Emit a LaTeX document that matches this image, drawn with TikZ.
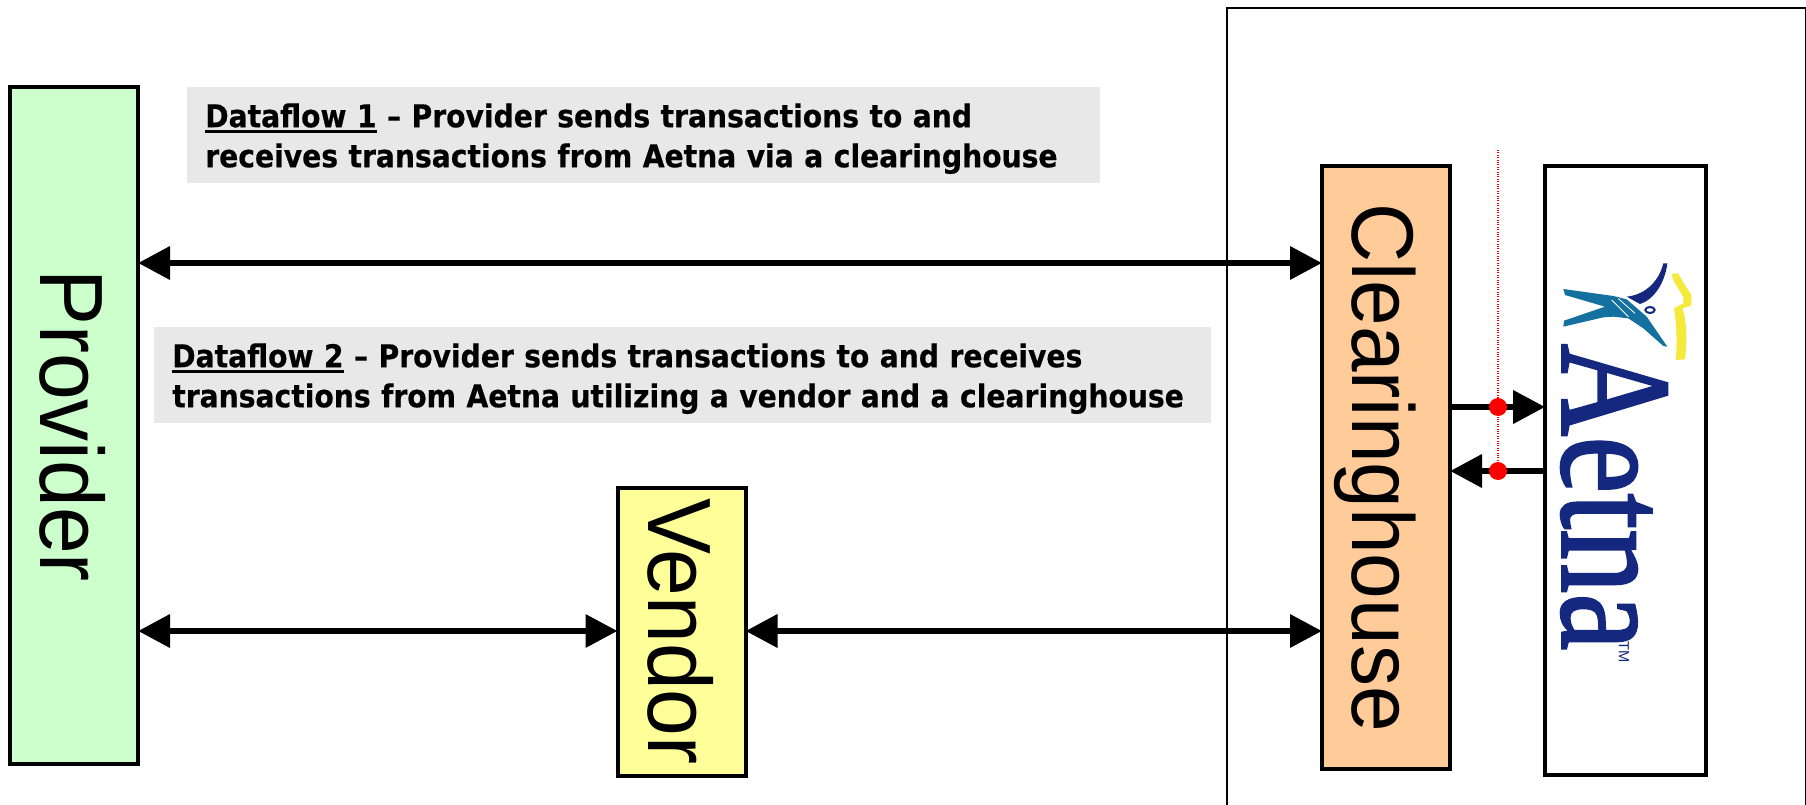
\documentclass[tikz,border=0pt]{standalone}
\usepackage{fontspec}
\setmainfont{Liberation Sans}
\newfontfamily\notefont[FakeStretch=0.9,BoldFeatures={FakeStretch=0.9,FakeBold=0.5}]{DejaVu Sans}
\newfontfamily\logofont[FakeBold=1.5]{Liberation Serif}
\usetikzlibrary{arrows.meta}
\definecolor{providergreen}{HTML}{CCFFCC}
\definecolor{vendoryellow}{HTML}{FFFF99}
\definecolor{clearorange}{HTML}{FFCC99}
\definecolor{notegray}{HTML}{E8E8E8}
\definecolor{logonavy}{HTML}{14287F}
\definecolor{logoblue}{HTML}{14709F}
\definecolor{logoyellow}{HTML}{F5E93C}
\newcommand{\turned}[2]{\rotatebox{-90}{\scalebox{1}[1.07]{#2}}\hspace*{#1}}
\newcommand{\flowtitle}[1]{\setbox0=\hbox{#1}\rlap{\rule[-4pt]{\wd0}{2pt}}\box0\relax}
\begin{document}
\begin{tikzpicture}[x=0.75pt,y=-0.75pt]

\tikzstyle{box}=[draw=black, line width=3pt, inner sep=0pt, font=\fontsize{63}{63}\selectfont]
\tikzstyle{note}=[fill=notegray, anchor=north west, inner ysep=0pt, inner xsep=13.5pt, align=left, minimum height=72pt, font=\notefont\bfseries\fontsize{23.5}{30}\selectfont]
\tikzstyle{flow}=[black, line width=5pt, shorten <=-1.5pt, shorten >=-1.5pt, {Triangle[length=24pt,width=24pt]}-{Triangle[length=24pt,width=24pt]}]
\tikzstyle{oneway}=[black, line width=5pt, shorten >=-1.5pt, -{Triangle[length=24pt,width=24pt]}]
\tikzstyle{dot}=[circle, fill=red, inner sep=0pt, minimum size=13.5pt]

\useasboundingbox (0,0) rectangle (1806,805);

% secure zone, runs off the page at the bottom
\node[draw=black, line width=1.4pt, anchor=north west, minimum width=434.5pt, minimum height=660pt] (zone) at (1226,7) {};

\node[note, text width=657.75pt] (noteone) at (187,87) {\rule{0pt}{23pt}\flowtitle{Dataflow 1} – Provider sends transactions to and\\receives transactions from Aetna via a clearinghouse};
\node[note, text width=765.75pt] (notetwo) at (154,327) {\rule{0pt}{23pt}\flowtitle{Dataflow 2} – Provider sends transactions to and receives\\transactions from Aetna utilizing a vendor and a clearinghouse};

\node[box, fill=providergreen, minimum width=96pt, minimum height=508pt] (provider) at (74,425.5) {\turned{2.25pt}{Provider}};
\node[box, fill=vendoryellow, minimum width=96pt, minimum height=216pt] (vendor) at (681.5,631.5) {\turned{1.5pt}{Vendor}};
\node[box, fill=clearorange, minimum width=96pt, minimum height=452pt, font=\fontsize{61.5}{61.5}\selectfont] (clearing) at (1386,467.5) {\turned{15.8pt}{Clearinghouse}};
\node[box, fill=white, minimum width=120.5pt, minimum height=457pt] (aetna) at (1625.5,470.5) {};

% logo
\node[text=logonavy, font=\logofont\fontsize{119}{119}\selectfont, inner sep=0pt] (logoword) at (1614,497) {\rotatebox{-90}{\scalebox{.81}[1]{Aetna}}};
\node[text=logonavy, font=\fontsize{11}{11}\selectfont, inner sep=0pt] (logotm) at (1624,652) {\rotatebox{-90}{TM}};
\begin{scope}[shift={(1300,140)},scale=1/3]
\fill[logoblue] (790,447) -- (940,468) -- (980,478) -- (1040,530) -- (1102,620) -- (1090,618) -- (1030,565) -- (985,535) -- (940,530) -- (910,532) -- (790,560) -- (792,542) -- (915,500) -- (795,465) -- cycle;
\draw[white, line width=.6pt] (935,480) -- (985,530);
\draw[white, line width=.6pt] (955,476) -- (1005,520);
\fill[logonavy] (1090,370) -- (1102,370) .. controls (1095,430) and (1060,480) .. (1020,492) -- (980,470) .. controls (1030,465) and (1075,430) .. (1090,370) -- cycle;
\draw[logonavy, line width=1.5pt] (1050,510) ellipse (14 and 9);
\fill[logoyellow] (1115,402) -- (1135,400) .. controls (1150,430) and (1165,450) .. (1174,465) -- (1174,497) -- (1147,505) .. controls (1160,540) and (1162,600) .. (1155,658) -- (1127,660) .. controls (1133,610) and (1128,540) .. (1122,505) -- (1150,490) -- (1150,472) .. controls (1140,450) and (1120,430) .. (1115,402) -- cycle;
\end{scope}

\coordinate (levelone) at (0,263);
\coordinate (leveltwo) at (0,631);
\coordinate (levelup) at (0,407);
\coordinate (leveldown) at (0,471);
\coordinate (wall) at (1498,150);

\draw[flow] (levelone -| provider.east) -- (levelone -| clearing.west);
\draw[flow] (leveltwo -| provider.east) -- (leveltwo -| vendor.west);
\draw[flow] (leveltwo -| vendor.east) -- (leveltwo -| clearing.west);
\draw[oneway] (levelup -| clearing.east) -- (levelup -| aetna.west);
\draw[oneway] (leveldown -| aetna.west) -- (leveldown -| clearing.east);

\draw[red, line width=.8pt, densely dotted] (wall) -- (levelup -| wall);
\draw[red, line width=.8pt, densely dotted] (levelup -| wall) -- (leveldown -| wall);
\node[dot] (dotup) at (levelup -| wall) {};
\node[dot] (dotdown) at (leveldown -| wall) {};
\end{tikzpicture}
\end{document}
